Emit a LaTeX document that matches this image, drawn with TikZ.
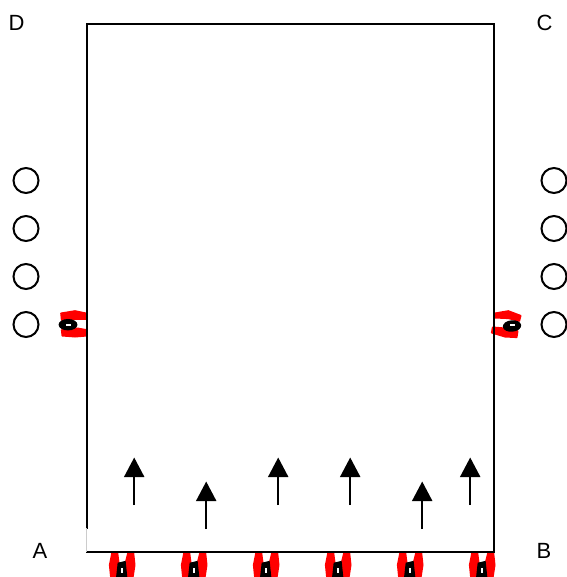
\documentclass[tikz,border=0pt]{standalone}
\usepackage{fontspec}
\setmainfont{Liberation Sans}
\usetikzlibrary{arrows.meta}
\tikzset{
  edge line/.style={line width=2bp,line cap=rect},
  spot/.style={circle,draw,line width=2bp,minimum size=25bp,inner sep=0pt,outer sep=0pt},
  corner/.style={inner sep=0pt,outer sep=0pt,font=\fontsize{22bp}{26bp}\selectfont},
  flow/.style={line width=2bp,-{Triangle[length=19.5bp,width=20bp,sep=0pt]},shorten >=0pt},
  jaw/.style={fill=red,draw=red,line width=1.6bp,line join=round},
  clamp/.style={fill=black,draw=black,line width=1.4bp},
  slot/.style={fill=white,draw=none}
}
\newcommand{\bottomgrip}[1]{%
  \begin{scope}[shift={(#1,0)}]
    \filldraw[jaw] (-9.4,552)--(-4.4,552)--(-2.7,565)--(-5,578)--(-10.7,578)--(-12,565)--cycle;
    \filldraw[jaw] (6.6,552)--(11.6,552)--(13,565)--(11,578)--(4.3,578)--(3.3,565)--cycle;
    \filldraw[clamp] (-3.4,563.3)--(3.3,561.7)--(5,578)--(-5,578)--cycle;
    \fill[slot] (-1,567.5) rectangle (0.8,572.5);
  \end{scope}}
\begin{document}
\begin{tikzpicture}[x=1bp,y=-1bp]
\useasboundingbox (0,0) rectangle (567,577);
% grippers behind the frame
\begin{scope}
\clip (0,0) rectangle (567,577);
\foreach \gx in {121.7,193.7,265.7,337.7,409.7,481.7}{\bottomgrip{\gx}}
\end{scope}
% left gripper
\filldraw[jaw] (61,313.3)--(75,311)--(86,313.3)--(86,319)--(75,319)--(61.7,320)--cycle;
\filldraw[jaw] (61.7,330)--(77.3,328.3)--(87,330)--(87,335.7)--(75,336.7)--(62.3,335.7)--cycle;
\filldraw[clamp] (68,324.7) ellipse [x radius=8.7bp,y radius=5bp];
\fill[slot] (65.7,323.8) rectangle (70.9,325.6);
% right gripper
\filldraw[jaw] (495,313.3)--(508.3,311)--(520.7,315.7)--(519.3,321)--(508.3,318.3)--(495,317.7)--cycle;
\filldraw[jaw] (492.7,327.3)--(505,328.3)--(517.7,331)--(516.7,337.3)--(505,336.7)--(491.7,332.7)--cycle;
\filldraw[clamp,rotate around={5:(512,326)}] (512,326) ellipse [x radius=8.5bp,y radius=5bp];
\fill[slot] (509.5,324.2) rectangle (514.5,326);
% frame
\coordinate (tl) at (86.5,24.5);
\coordinate (tr) at (494,24.5);
\coordinate (br) at (494,552);
\coordinate (bl) at (86.5,552);
\coordinate (gap) at (86.5,528);
\draw[edge line] (gap)--(tl)--(tr)--(br)--(bl);
\draw[line width=1bp,black!20] (gap)--(bl);
% circles
\foreach \i/\cy in {1/180.5,2/228.5,3/276.5,4/324.5}{
  \node[spot] (l\i) at (26,\cy) {};
  \node[spot] (r\i) at (554,\cy) {};
}
% arrows
\foreach \i/\ax/\ay in {1/134.2/505,2/206.2/529,3/278.2/505,4/350.2/505,5/422.2/529,6/470.2/505}{
  \coordinate (s\i) at (\ax,\ay);
  \coordinate (e\i) at (\ax,\ay-47.5);
  \draw[flow] (s\i)--(e\i);
}
% labels
\node[corner] (D) at (16.5,23) {D};
\node[corner] (C) at (544.5,23) {C};
\node[corner] (A) at (40,551) {A};
\node[corner] (B) at (544,551) {B};
\end{tikzpicture}
\end{document}
